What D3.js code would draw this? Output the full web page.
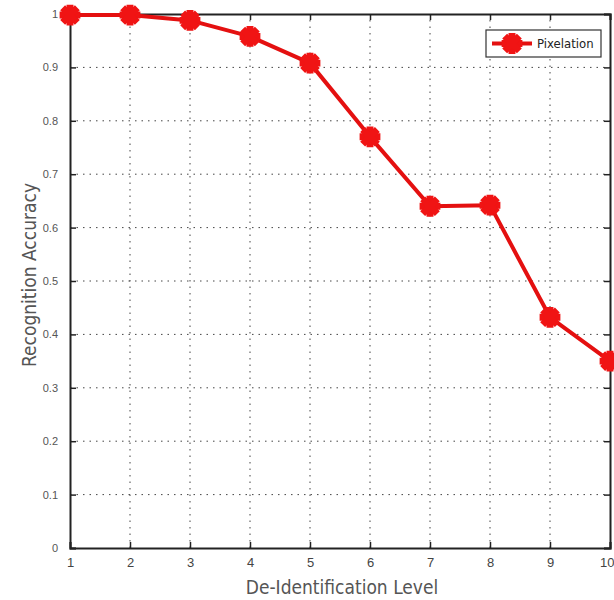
<!DOCTYPE html>
<html>
<head>
<meta charset="utf-8">
<script src="https://cdn.jsdelivr.net/npm/d3@7"></script>
<style>
  body { margin: 0; background: #fff; }
  svg { display: block; font-family: "Liberation Sans Narrow", "DejaVu Sans Condensed", "Liberation Sans", sans-serif; }
</style>
</head>
<body>
<div class="chart"></div>
<script>
const levels = [1, 2, 3, 4, 5, 6, 7, 8, 9, 10];
const accuracy = [0.998, 0.998, 0.988, 0.958, 0.908, 0.77, 0.64, 0.642, 0.432, 0.35];
const yTicks = [0, 0.1, 0.2, 0.3, 0.4, 0.5, 0.6, 0.7, 0.8, 0.9, 1];
const seriesName = "Pixelation";

const width = 614;
const height = 600;
const margin = { top: 14, right: 4, bottom: 52, left: 70 };

const svg = d3.select(".chart")
    .append("svg")
    .attr("width", width)
    .attr("height", height);

const x = d3.scaleLinear()
    .domain([1, 10])
    .range([margin.left, width - margin.right]);

const y = d3.scaleLinear()
    .domain([0, 1])
    .range([height - margin.bottom, margin.top]);

// dotted grid
const grid = svg.append("g").attr("class", "grid");
grid.selectAll("line.gx")
    .data(levels.slice(1, -1))
    .join("line")
    .attr("x1", d => x(d)).attr("x2", d => x(d))
    .attr("y1", y(0)).attr("y2", y(1))
    .attr("stroke", "#444")
    .attr("stroke-width", 1)
    .attr("stroke-dasharray", "1.5,5");
grid.selectAll("line.gy")
    .data(yTicks.slice(1, -1))
    .join("line")
    .attr("x1", x(1)).attr("x2", x(10))
    .attr("y1", d => y(d)).attr("y2", d => y(d))
    .attr("stroke", "#444")
    .attr("stroke-width", 1)
    .attr("stroke-dasharray", "1.5,5");

// axes, ticks pointing inward
const xAxis = svg.append("g")
    .attr("transform", `translate(0,${y(0)})`)
    .call(d3.axisBottom(x).tickValues(levels).tickSize(-6).tickPadding(10).tickFormat(d3.format("d")));
const yAxis = svg.append("g")
    .attr("transform", `translate(${x(1)},0)`)
    .call(d3.axisLeft(y).tickValues(yTicks).tickSize(-6).tickPadding(12).tickFormat(d => d === 0 || d === 1 ? d : d3.format(".1f")(d)));
const xTop = svg.append("g")
    .attr("transform", `translate(0,${y(1)})`)
    .call(d3.axisTop(x).tickValues(levels).tickSize(-6).tickFormat(""));
const yRight = svg.append("g")
    .attr("transform", `translate(${x(10)},0)`)
    .call(d3.axisRight(y).tickValues(yTicks).tickSize(-6).tickFormat(""));

[xAxis, yAxis, xTop, yRight].forEach(g => {
    g.select(".domain").attr("stroke", "#222").attr("stroke-width", 2);
    g.selectAll(".tick line").attr("stroke", "#222").attr("stroke-width", 1.5);
});
xAxis.selectAll(".tick text").attr("font-size", 13).attr("fill", "#444")
    .attr("text-anchor", d => d === 10 ? "end" : "middle")
    .attr("dx", d => d === 10 ? 4 : 0);
yAxis.selectAll(".tick text").attr("font-size", 11).attr("fill", "#555");

// line
svg.append("path")
    .datum(levels.map((d, i) => [d, accuracy[i]]))
    .attr("fill", "none")
    .attr("stroke", "#e41010")
    .attr("stroke-width", 4)
    .attr("stroke-linejoin", "round")
    .attr("d", d3.line().x(d => x(d[0])).y(d => y(d[1])));

// star markers
function marker(g, cx, cy) {
    g.append("circle").attr("cx", cx).attr("cy", cy).attr("r", 8).attr("fill", "#f01414");
    g.append("path").attr("d", d3.symbol().type(d3.symbolCross).size(240)())
        .attr("transform", `translate(${cx},${cy})`)
        .attr("fill", "#f01414");
    g.append("path").attr("d", d3.symbol().type(d3.symbolCross).size(240)())
        .attr("transform", `translate(${cx},${cy}) rotate(45)`)
        .attr("fill", "#f01414");
}
const markers = svg.append("g");
levels.forEach((d, i) => marker(markers, x(d), y(accuracy[i])));

// legend
const legend = svg.append("g").attr("transform", "translate(486,30)");
legend.append("rect")
    .attr("width", 115).attr("height", 27)
    .attr("fill", "#fff").attr("stroke", "#333").attr("stroke-width", 1.2);
legend.append("line")
    .attr("x1", 6).attr("x2", 46).attr("y1", 13.5).attr("y2", 13.5)
    .attr("stroke", "#e41010").attr("stroke-width", 4);
marker(legend, 26, 13.5);
legend.append("text")
    .attr("x", 51).attr("y", 18)
    .attr("font-size", 13)
    .attr("fill", "#222")
    .text(seriesName);

// axis titles
svg.append("text")
    .attr("x", (x(1) + x(10)) / 2 + 2)
    .attr("y", 594)
    .attr("text-anchor", "middle")
    .attr("font-size", 19)
    .attr("fill", "#555")
    .text("De-Identification Level");
svg.append("text")
    .attr("transform", `translate(36,${(y(0) + y(1)) / 2 - 6}) rotate(-90)`)
    .attr("text-anchor", "middle")
    .attr("font-size", 19)
    .attr("fill", "#555")
    .text("Recognition Accuracy");
</script>
</body>
</html>
